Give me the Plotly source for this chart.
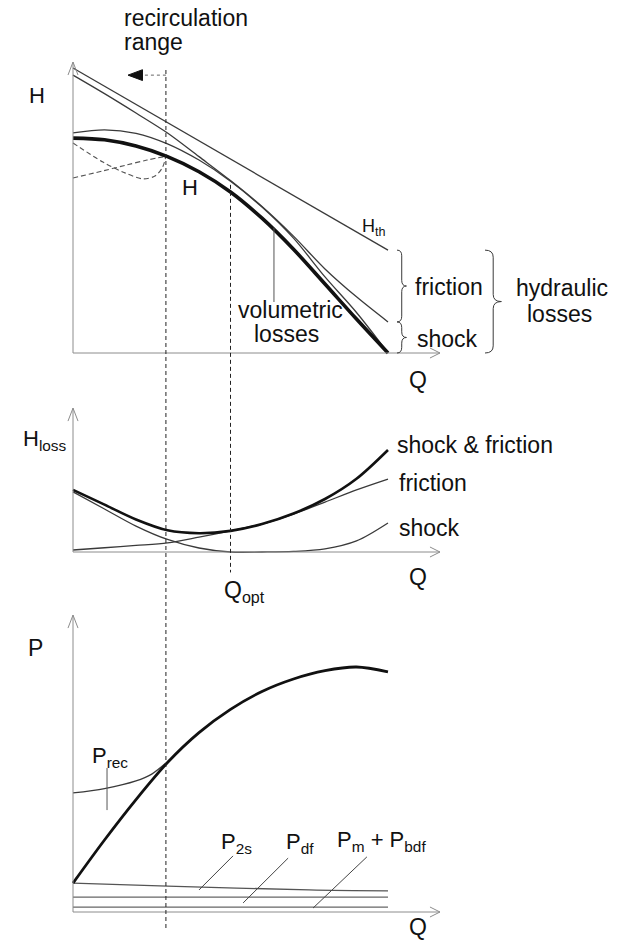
import plotly.graph_objects as go

# ---------------- data (normalised: Q/Q_max, head/H_th(0), power/P_max) ----------------
Q = [0.0, 0.1, 0.2, 0.3, 0.4, 0.5, 0.6, 0.7, 0.8, 0.9, 1.0]

# head curves
H_th = [1.0, 0.936, 0.872, 0.808, 0.745, 0.681, 0.617, 0.553, 0.489, 0.425, 0.361]
H_after_friction = [0.975, 0.910, 0.842, 0.772, 0.689, 0.605, 0.514, 0.410, 0.295, 0.197, 0.109]
H_after_hydraulic = [0.772, 0.783, 0.771, 0.734, 0.677, 0.603, 0.512, 0.403, 0.267, 0.142, 0.0]
H_pump = [0.754, 0.748, 0.726, 0.689, 0.636, 0.565, 0.473, 0.364, 0.242, 0.119, 0.0]

# alternative head shapes inside the recirculation range
Q_alt_a = [0.0, 0.095, 0.165, 0.222, 0.260, 0.283, 0.295]
H_alt_a = [0.737, 0.670, 0.632, 0.611, 0.621, 0.649, 0.690]
Q_alt_b = [0.0, 0.095, 0.171, 0.235, 0.295]
H_alt_b = [0.614, 0.639, 0.660, 0.677, 0.690]

# hydraulic losses
H_friction = [0.007, 0.015, 0.023, 0.032, 0.052, 0.074, 0.098, 0.133, 0.175, 0.218, 0.256]
H_shock = [0.211, 0.151, 0.091, 0.044, 0.014, 0.0, 0.0, 0.002, 0.011, 0.039, 0.102]
H_loss_total = [f + s for f, s in zip(H_friction, H_shock)]

# power curves
P = [0.118, 0.294, 0.459, 0.610, 0.732, 0.827, 0.900, 0.951, 0.985, 1.0, 0.980]
Q_rec_pts = [0.0, 0.1, 0.2, 0.25, 0.295]
P_rec = [0.486, 0.504, 0.535, 0.563, 0.608]
Q_2s = [0.0, 0.3, 0.75, 1.0]
P_2s = [0.118, 0.106, 0.090, 0.086]
Q_flat = [0.0, 1.0]
P_df = [0.061, 0.061]
P_m_bdf = [0.020, 0.020]

Q_rec = 0.295   # onset of recirculation
Q_opt = 0.5     # best efficiency point
Q_axis_end = 1.165

FONT = "Liberation Sans, Arial, Helvetica, sans-serif"
INK = "#111111"
THIN = "#3a3a3a"
AXIS = "#8c8c8c"

fig = go.Figure()


def curve(x, y, axis, width=1.3, color=THIN, dash="solid", shape="spline"):
    fig.add_trace(go.Scatter(
        x=x, y=y, yaxis=axis, mode="lines", hoverinfo="skip", showlegend=False,
        line=dict(color=color, width=width, dash=dash, shape=shape, smoothing=0.9)))


# --- top panel: head ---
curve(Q, H_th, "y", shape="linear")
curve(Q, H_after_friction, "y")
curve(Q, H_after_hydraulic, "y")
curve(Q_alt_a, H_alt_a, "y", width=1.1, color="#555555", dash="5px,3px")
curve(Q_alt_b, H_alt_b, "y", width=1.1, color="#555555", dash="5px,3px")
curve(Q, H_pump, "y", width=3.6, color=INK)

# --- middle panel: losses ---
curve(Q, H_friction, "y2")
curve(Q, H_shock, "y2")
curve(Q, H_loss_total, "y2", width=2.6, color=INK)

# --- bottom panel: power ---
curve(Q_2s, P_2s, "y3", color="#555555")
curve(Q_flat, P_df, "y3", color="#666666")
curve(Q_flat, P_m_bdf, "y3", color="#666666")
curve(Q_rec_pts, P_rec, "y3")
curve(Q, P, "y3", width=2.8, color=INK)

shapes = []


def seg(x0, y0, x1, y1, yref, color=THIN, width=1.1, dash="solid"):
    shapes.append(dict(type="line", xref="x", yref=yref, x0=x0, y0=y0, x1=x1, y1=y1,
                       line=dict(color=color, width=width, dash=dash), layer="above"))


def path(d, yref, color=THIN, width=1.1, fill=None):
    s = dict(type="path", xref="x", yref=yref, path=d,
             line=dict(color=color, width=width), layer="above")
    if fill:
        s["fillcolor"] = fill
    shapes.append(s)


def brace(x, top, bottom, w, d):
    mid = (top + bottom) / 2
    xm = x + w / 2
    return (f"M {x},{top} Q {xm},{top} {xm},{top - d} L {xm},{mid + d} "
            f"Q {xm},{mid} {x + w},{mid} Q {xm},{mid} {xm},{mid - d} "
            f"L {xm},{bottom + d} Q {xm},{bottom} {x},{bottom}")


# axes with open arrow heads (px -> units: 315 px per Q, 285 px per head unit, 245 px per P unit)
panels = [("y", 1.021, 1 / 285), ("y2", 0.505, 1 / 285), ("y3", 1.212, 1 / 245)]
for yref, top, u in panels:
    seg(0, 0, Q_axis_end, 0, yref, color=AXIS, width=1)
    seg(0, 0, 0, top, yref, color=AXIS, width=1)
    path(f"M {Q_axis_end - 10 / 315},{5 * u} L {Q_axis_end},0 L {Q_axis_end - 10 / 315},{-5 * u}",
         yref, color=AXIS, width=1)
    path(f"M {-5 / 315},{top - 13 * u} L 0,{top} L {5 / 315},{top - 13 * u}",
         yref, color=AXIS, width=1)

# recirculation and best-efficiency markers
seg(Q_rec, 0.993, Q_rec, -2.018, "y", color="#222222", width=1, dash="4px,3px")
seg(Q_opt, 0.59, Q_opt, -0.77, "y", color="#222222", width=1, dash="4px,3px")

# recirculation-range arrow
seg(Q_rec, 0.975, 0.2186, 0.975, "y", color="#666666", width=1, dash="dot")
path(f"M 0.1746,0.975 L 0.2206,{0.975 + 0.019} L 0.2206,{0.975 - 0.019} Z", "y",
     color=INK, width=1, fill=INK)

# braces for the loss split at Q_max
path(brace(1.0286, H_th[-1], H_after_friction[-1], 0.030, 0.02), "y", width=1)
path(brace(1.0286, H_after_friction[-1], H_pump[-1], 0.030, 0.02), "y", width=1)
path(brace(1.308, H_th[-1], H_pump[-1], 0.052, 0.025), "y", width=1)

# leader lines
seg(0.638, 0.44, 0.638, 0.179, "y", color="#555555", width=1)
seg(0.108, 0.588, 0.108, 0.416, "y3", color="#555555", width=1)
seg(0.508, 0.229, 0.400, 0.090, "y3", color="#444444", width=1)
seg(0.683, 0.220, 0.540, 0.037, "y3", color="#444444", width=1)
seg(0.933, 0.225, 0.762, 0.016, "y3", color="#444444", width=1)

annotations = []


def label(text, x, y, yref, size=23, xanchor="left", yanchor="middle"):
    annotations.append(dict(text=text, x=x, y=y, xref="x", yref=yref, showarrow=False,
                            xanchor=xanchor, yanchor=yanchor,
                            font=dict(family=FONT, size=size, color=INK)))


label("recirculation", 0.156, 1.175, "y")
label("range", 0.156, 1.091, "y")
label("H", -0.114, 0.905, "y", size=22, xanchor="center")
label("H", 0.371, 0.582, "y", size=22, xanchor="center")
label("H<sub>th</sub>", 0.911, 0.442, "y", size=18)
label("friction", 1.079, 0.232, "y")
label("shock", 1.086, 0.049, "y")
label("hydraulic", 1.552, 0.2281, "y", xanchor="center")
label("losses", 1.543, 0.1368, "y", xanchor="center")
label("volumetric", 0.689, 0.151, "y", xanchor="center")
label("losses", 0.679, 0.067, "y", xanchor="center")
label("Q", 1.095, -0.095, "y", size=23, xanchor="center")

label("H<sub>loss</sub>", -0.012, 0.393, "y2", size=22, xanchor="right")
label("shock &amp; friction", 1.022, 0.375, "y2")
label("friction", 1.028, 0.242, "y2")
label("shock", 1.028, 0.084, "y2")
label("Q", 1.095, -0.088, "y2", xanchor="center")
label("Q<sub>opt</sub>", 0.473, -0.137, "y2")

label("P", -0.1175, 1.078, "y3", xanchor="center")
label("P<sub>rec</sub>", 0.1175, 0.633, "y3", size=22, xanchor="center")
label("P<sub>2s</sub>", 0.52, 0.282, "y3", size=22, xanchor="center")
label("P<sub>df</sub>", 0.7206, 0.282, "y3", size=22, xanchor="center")
label("P<sub>m</sub> + P<sub>bdf</sub>", 0.978, 0.290, "y3", size=22, xanchor="center")
label("Q", 1.095, -0.124, "y3", xanchor="center", yanchor="bottom")

hidden = dict(visible=False, showgrid=False, zeroline=False, fixedrange=True)
fig.update_layout(
    width=618, height=945, margin=dict(l=0, r=0, t=0, b=0),
    paper_bgcolor="white", plot_bgcolor="white", showlegend=False,
    xaxis=dict(range=[-0.23175, 1.7302], **hidden),
    yaxis=dict(range=[-2.0772, 1.2386], **hidden),
    yaxis2=dict(range=[-1.3789, 1.9368], overlaying="y", **hidden),
    yaxis3=dict(range=[-0.13469, 3.72245], overlaying="y", **hidden),
    shapes=shapes, annotations=annotations,
)

fig.write_html("out.html", config={"displayModeBar": False, "staticPlot": True})
